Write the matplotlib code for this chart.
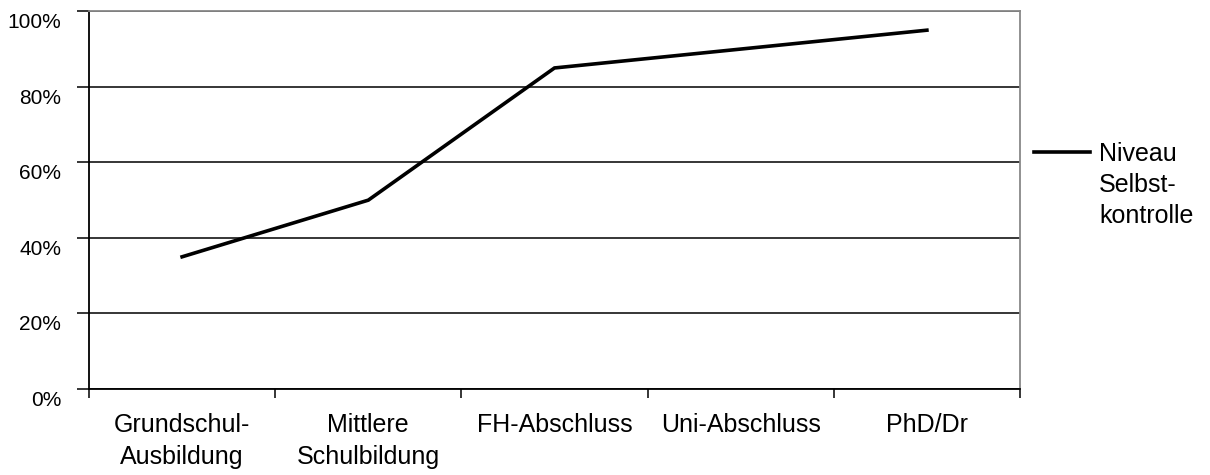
# Liniendiagramm: Niveau der Selbstkontrolle nach Bildungsabschluss
import matplotlib.pyplot as plt
from matplotlib.ticker import FixedLocator, FuncFormatter
from matplotlib.offsetbox import HPacker
import matplotlib.transforms as mtransforms

# Daten
kategorien = ['Grundschul-\nAusbildung', 'Mittlere\nSchulbildung', 'FH-Abschluss',
              'Uni-Abschluss', 'PhD/Dr']
selbstkontrolle = [35, 50, 85, 90, 95]   # in Prozent
y_ticks = [0, 20, 40, 60, 80, 100]
serie_name = 'Niveau\nSelbst-\nkontrolle'

plt.rcParams['font.family'] = ['Liberation Sans', 'DejaVu Sans']

fig = plt.figure(figsize=(12.1, 4.75), dpi=100)
ax = fig.add_axes([89 / 1210, 86 / 475, 931 / 1210, 377.7 / 475])

x = list(range(len(kategorien)))
ax.plot(x, selbstkontrolle, color='black', linewidth=2.6, label=serie_name,
        solid_joinstyle='miter')

ax.set_xlim(-0.5, len(kategorien) - 0.5)
ax.set_ylim(0, 100)

# horizontale Gitterlinien
ax.yaxis.set_major_locator(FixedLocator(y_ticks))
ax.yaxis.set_major_formatter(FuncFormatter(lambda v, p: f'{v:.0f}%'))
ax.grid(axis='y', color='black', linewidth=1.1)
ax.set_axisbelow(True)

# Kategorien: Beschriftung in der Mitte, Striche an den Grenzen
ax.set_xticks(x)
ax.set_xticklabels(kategorien, fontsize=18, linespacing=1.42)
ax.set_xticks([i - 0.5 for i in range(len(kategorien) + 1)], minor=True)
ax.tick_params(axis='x', which='major', length=0, pad=17)
ax.tick_params(axis='x', which='minor', length=6.5, width=1.1, direction='out')
ax.tick_params(axis='y', length=8.6, width=1.1, direction='out', pad=11.5, labelsize=15)

# Y-Beschriftung etwas nach unten versetzt
versatz = mtransforms.ScaledTranslation(0, -0.095, fig.dpi_scale_trans)
for lbl in ax.get_yticklabels():
    lbl.set_transform(lbl.get_transform() + versatz)

for seite in ['left', 'bottom']:
    ax.spines[seite].set_color('black')
    ax.spines[seite].set_linewidth(1.3)
for seite in ['top', 'right']:
    ax.spines[seite].set_color('#888888')
    ax.spines[seite].set_linewidth(1.3)

leg = ax.legend(loc='upper left', bbox_to_anchor=(1034 / 1210, 1 - 142 / 475),
                bbox_transform=fig.transFigure, frameon=False, fontsize=18,
                handlelength=2.24, handleheight=0.95, handletextpad=0.36,
                borderpad=0, borderaxespad=0)
for t in leg.get_texts():
    t.set_linespacing(1.37)
# Linie an der ersten Textzeile ausrichten
for box in leg.findobj(HPacker):
    box.align = 'top'

plt.savefig('out.png', dpi=100)
